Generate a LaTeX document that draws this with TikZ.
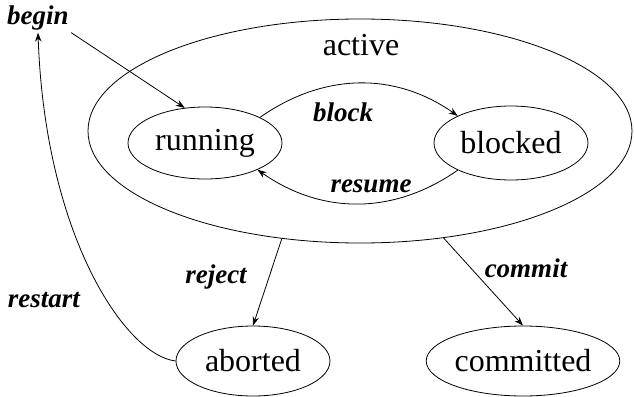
\documentclass[tikz,border=0pt]{standalone}
\usepackage{fontspec}
\setmainfont{Liberation Serif}
\usepackage{tikz}
\usetikzlibrary{positioning, shapes.geometric, arrows.meta}

\begin{document}
\begin{tikzpicture}[x=0.5pt, y=-0.5pt,
  state/.style={draw, ellipse, inner sep=0pt, font=\fontsize{16}{19}\selectfont},
  trans/.style={font=\fontsize{13.5}{16}\selectfont\bfseries\itshape, inner sep=1pt},
  >={Stealth[length=4.5pt, width=3.2pt]}]
\useasboundingbox (0,0) rectangle (634,397);

\node[state, minimum width=272pt, minimum height=112pt] (active) at (360,131) {};
\node[font=\fontsize{16}{19}\selectfont] (activelabel) at (361,45) {active};

\node[state, minimum width=77pt, minimum height=36pt] (running) at (205,143) {running};
\node[state, minimum width=77pt, minimum height=37pt] (blocked) at (511,143) {blocked};
\node[state, minimum width=77pt, minimum height=35pt] (aborted) at (253,361) {aborted};
\node[state, minimum width=89pt, minimum height=35pt] (committed) at (523,361) {committed};

\node[trans] (begin) at (38,18) {begin};
\node[trans] (block) at (343,112) {block};
\node[trans] (resume) at (371,186) {resume};
\node[trans] (reject) at (216,277) {reject};
\node[trans] (restart) at (44,300) {restart};
\node[trans] (commit) at (526,268) {commit};

\draw[->] (begin.south east) -- (running.120);
\draw[->] (running.25) to[out=35, in=145] (blocked.153);
\draw[->] (blocked.207) to[out=215, in=-35] (running.333);
\draw[->] (active.234) -- (aborted.north);
\draw[->] (active.308) -- (committed.north);
\draw[->] (aborted.west) .. controls (125,355) and (45,235) .. (begin.south);
\end{tikzpicture}
\end{document}
